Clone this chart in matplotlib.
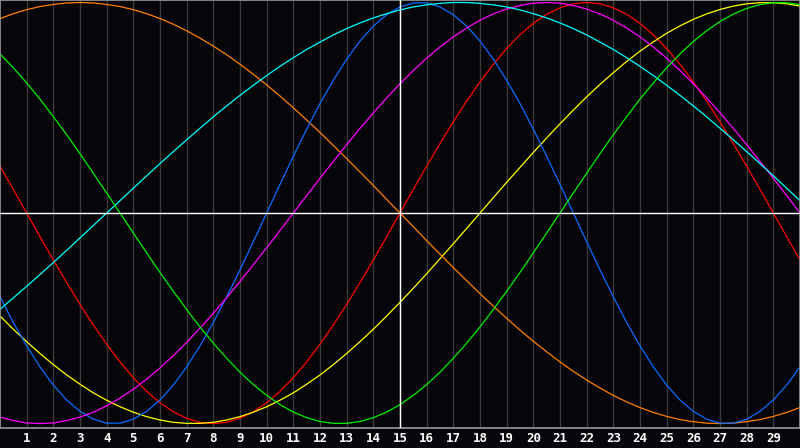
import numpy as np
import matplotlib
matplotlib.use('Agg')
import matplotlib.pyplot as plt

# days on the x axis, sampled every half day
days = np.arange(0, 30.5, 0.5)
day_labels = [str(d) for d in range(1, 30)]
today = 15

# cycle values (-1 .. 1)
c23 = [-0.398, -0.520, -0.631, -0.731, -0.817, -0.888, -0.942, -0.979, -0.998, -0.998, -0.979,
       -0.942, -0.888, -0.817, -0.731, -0.631, -0.520, -0.398, -0.270, -0.136, 0.000, 0.136,
       0.270, 0.398, 0.520, 0.631, 0.731, 0.817, 0.888, 0.942, 0.979, 0.998, 0.998, 0.979,
       0.942, 0.888, 0.817, 0.731, 0.631, 0.520, 0.398, 0.270, 0.136, 0.000, -0.136, -0.270,
       -0.398, -0.520, -0.631, -0.731, -0.817, -0.888, -0.942, -0.979, -0.998, -0.998, -0.979,
       -0.942, -0.888, -0.817, -0.731]
c28 = [0.222, 0.112, 0.000, -0.112, -0.223, -0.330, -0.434, -0.532, -0.623, -0.707, -0.782,
       -0.847, -0.901, -0.944, -0.975, -0.994, -1.000, -0.994, -0.975, -0.944, -0.901, -0.847,
       -0.782, -0.707, -0.623, -0.532, -0.434, -0.330, -0.223, -0.112, 0.000, 0.112, 0.223,
       0.330, 0.434, 0.532, 0.623, 0.707, 0.782, 0.847, 0.901, 0.944, 0.975, 0.994, 1.000,
       0.994, 0.975, 0.944, 0.901, 0.847, 0.782, 0.707, 0.623, 0.532, 0.434, 0.330, 0.223,
       0.112, 0.000, -0.112, -0.223]
c33 = [0.756, 0.690, 0.618, 0.541, 0.458, 0.372, 0.282, 0.189, 0.095, 0.000, -0.095, -0.189,
       -0.282, -0.372, -0.458, -0.541, -0.618, -0.690, -0.756, -0.815, -0.866, -0.910, -0.945,
       -0.972, -0.990, -0.999, -0.999, -0.990, -0.972, -0.945, -0.910, -0.866, -0.815, -0.756,
       -0.690, -0.618, -0.541, -0.458, -0.372, -0.282, -0.189, -0.095, 0.000, 0.095, 0.189,
       0.282, 0.372, 0.458, 0.541, 0.618, 0.690, 0.756, 0.815, 0.866, 0.910, 0.945, 0.972,
       0.990, 0.999, 0.999, 0.990]
c38 = [-0.969, -0.986, -0.997, -1.000, -0.997, -0.986, -0.969, -0.946, -0.916, -0.879, -0.837,
       -0.789, -0.736, -0.677, -0.614, -0.547, -0.476, -0.402, -0.325, -0.245, -0.165, -0.083,
       0.000, 0.083, 0.165, 0.245, 0.325, 0.402, 0.476, 0.547, 0.614, 0.677, 0.736, 0.789,
       0.837, 0.879, 0.916, 0.946, 0.969, 0.986, 0.997, 1.000, 0.997, 0.986, 0.969, 0.946,
       0.916, 0.879, 0.837, 0.789, 0.736, 0.677, 0.614, 0.547, 0.476, 0.402, 0.325, 0.245,
       0.165, 0.083, 0.000]
c43 = [-0.489, -0.552, -0.611, -0.667, -0.720, -0.769, -0.813, -0.854, -0.889, -0.920, -0.946,
       -0.967, -0.983, -0.994, -0.999, -0.999, -0.994, -0.983, -0.967, -0.946, -0.920, -0.889,
       -0.854, -0.813, -0.769, -0.720, -0.667, -0.611, -0.552, -0.489, -0.424, -0.357, -0.288,
       -0.217, -0.146, -0.073, 0.000, 0.073, 0.146, 0.217, 0.288, 0.357, 0.424, 0.489, 0.552,
       0.611, 0.667, 0.720, 0.769, 0.813, 0.854, 0.889, 0.920, 0.946, 0.967, 0.983, 0.994,
       0.999, 0.999, 0.994, 0.983]
c48 = [0.924, 0.947, 0.966, 0.981, 0.991, 0.998, 1.000, 0.998, 0.991, 0.981, 0.966, 0.947,
       0.924, 0.897, 0.866, 0.831, 0.793, 0.752, 0.707, 0.659, 0.609, 0.556, 0.500, 0.442,
       0.383, 0.321, 0.259, 0.195, 0.131, 0.065, 0.000, -0.065, -0.131, -0.195, -0.259, -0.321,
       -0.383, -0.442, -0.500, -0.556, -0.609, -0.659, -0.707, -0.752, -0.793, -0.831, -0.866,
       -0.897, -0.924, -0.947, -0.966, -0.981, -0.991, -0.998, -1.000, -0.998, -0.991, -0.981,
       -0.966, -0.947, -0.924]
c53 = [-0.457, -0.403, -0.348, -0.292, -0.235, -0.177, -0.118, -0.059, 0.000, 0.059, 0.118,
       0.177, 0.235, 0.292, 0.348, 0.403, 0.457, 0.509, 0.559, 0.607, 0.653, 0.697, 0.738,
       0.777, 0.812, 0.846, 0.876, 0.903, 0.927, 0.947, 0.965, 0.979, 0.989, 0.996, 1.000,
       1.000, 0.996, 0.989, 0.979, 0.965, 0.947, 0.927, 0.903, 0.876, 0.846, 0.812, 0.777,
       0.738, 0.697, 0.653, 0.607, 0.559, 0.509, 0.457, 0.403, 0.348, 0.292, 0.235, 0.177,
       0.118, 0.059]

bg = '#060509'
fig = plt.figure(figsize=(8, 4.48), dpi=100, facecolor=bg)
ax = fig.add_axes([0, 20 / 448, 1, 428 / 448])
ax.set_facecolor(bg)
ax.set_xlim(0, 30)
ax.set_ylim(-1.021, 1.012)

ax.set_xticks(range(1, 30))
ax.set_xticklabels(day_labels)
ax.set_yticks([])
ax.grid(axis='x', color='#3a3a3a', linewidth=1.0)
ax.tick_params(axis='x', length=0, pad=3, labelcolor='white', labelsize=9)
for lbl in ax.get_xticklabels():
    lbl.set_fontweight('bold')
    lbl.set_family('DejaVu Sans Mono')
for s in ax.spines.values():
    s.set_color('#9a9a9a')
    s.set_linewidth(1.2)

lw = 0.9
ax.plot(days, c28, color='#ff0000', lw=lw)
ax.plot(days, c43, color='#ffff00', lw=lw)
ax.plot(days, c48, color='#ff8000', lw=lw)
ax.plot(days, c23, color='#0a6cff', lw=lw)
ax.plot(days, c38, color='#ff00ff', lw=lw)
ax.plot(days, c53, color='#00ffff', lw=lw)
ax.plot(days, c33, color='#00f000', lw=lw)

ax.axhline(0, color='white', lw=1.0, zorder=5)
ax.axvline(today, color='white', lw=1.0, zorder=5)

fig.savefig('out.png', dpi=100, facecolor=bg)
